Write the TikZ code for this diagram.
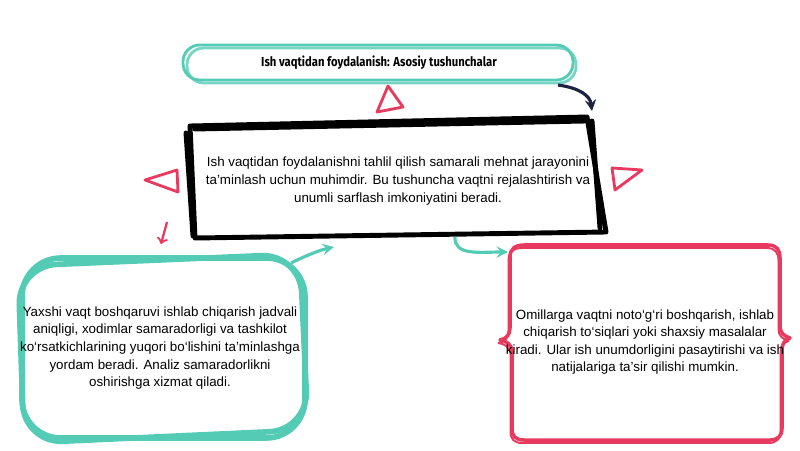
\documentclass[tikz,border=0pt]{standalone}
\usepackage{fontspec}
\setmainfont{Liberation Sans}
\newfontfamily\titlefont[FakeStretch=0.86]{Fira Sans}
\usetikzlibrary{arrows}

\definecolor{sketchteal}{RGB}{84,203,181}
\definecolor{sketchred}{RGB}{232,58,94}
\definecolor{sketchnavy}{RGB}{30,36,62}

\tikzstyle{bodytext} = [align=center,font=\fontsize{7.6pt}{10pt}\selectfont,inner sep=0pt]
\tikzstyle{titletext} = [font=\titlefont\bfseries\fontsize{7.45pt}{8pt}\selectfont,inner sep=0pt]
\tikzstyle{tealpen} = [draw=sketchteal,line width=1.6pt,line join=round]
\tikzstyle{tealthick} = [draw=sketchteal,line width=3.2pt,line join=round]
\tikzstyle{blackpen} = [draw=black,line width=2.8pt,line join=round,line cap=round]
\tikzstyle{redpen} = [draw=sketchred,line width=2pt,line join=round]
\tikzstyle{redtri} = [draw=sketchred,line width=1.6pt,line join=round]

\begin{document}
\begin{tikzpicture}
      [x=0.02cm,y=-0.02cm,
      arrowdecorate/.style={->,>=stealth,line width=1.8pt}]
      \useasboundingbox (0,0) rectangle (800,450);

      %% outlines
      \draw[tealpen,rounded corners=9.5pt] (183,45) rectangle (573,80);
      \draw[tealpen,rounded corners=9.5pt,opacity=0.8] (187,48) rectangle (576,83);

      \draw[blackpen] (190,126) -- (587,117) -- (606,232) -- (195,238) -- cycle;
      \draw[blackpen] (186,133) -- (193,236);
      \draw[blackpen] (592,121) -- (600,228);
      \draw[blackpen] (195,129) -- (585,121);

      \draw[tealthick,rounded corners=22pt] (22,258) rectangle (305,438);
      \draw[tealthick,rounded corners=22pt] (18,266) -- (300,254) -- (308,430) -- (24,443) -- cycle;

      \foreach \shift/\pen in {0/2pt, 3/1.1pt}
      {
        \draw[redpen,line width=\pen,xshift=-\shift*0.01cm,yshift=-\shift*0.02cm]
          (524,245) -- (768,245) .. controls (777,245) and (780,250) .. (780,258)
          -- (780,326) .. controls (780,333) and (784,336) .. (790,338)
          .. controls (784,340) and (782,344) .. (782,351)
          -- (782,428) .. controls (782,436) and (778,440) .. (770,440)
          -- (524,440) .. controls (515,440) and (512,436) .. (512,428)
          -- (512,352) .. controls (512,344) and (506,341) .. (500,340)
          .. controls (506,339) and (510,335) .. (510,328)
          -- (510,257) .. controls (510,249) and (515,245) .. cycle;
      }

      %% decorations
      \foreach \triname/\ax/\ay/\bx/\by/\cx/\cy in {
        tritop/388/86/377/112/403/107, trileft/145/180/177/170/178/192,
        triright/612/168/642/170/615/190}
      {
        \draw[redtri] (\ax,\ay) -- (\bx,\by) -- (\cx,\cy) -- cycle;
      }

      %% nodes
      \node[titletext] (title) at (379,63) {Ish vaqtidan foydalanish: Asosiy tushunchalar};
      \node[bodytext] (main) at (398,181) {Ish vaqtidan foydalanishni tahlil qilish samarali mehnat jarayonini\\
        ta’minlash uchun muhimdir. Bu tushuncha vaqtni rejalashtirish va\\
        unumli sarflash imkoniyatini beradi.};
      \node[bodytext] (good) at (160,348) {Yaxshi vaqt boshqaruvi ishlab chiqarish jadvali\\
        aniqligi, xodimlar samaradorligi va tashkilot\\
        ko‘rsatkichlarining yuqori bo‘lishini ta’minlashga\\
        yordam beradi. Analiz samaradorlikni\\
        oshirishga xizmat qiladi.};
      \node[bodytext] (bad) at (645,342) {Omillarga vaqtni noto‘g‘ri boshqarish, ishlab\\
        chiqarish to‘siqlari yoki shaxsiy masalalar\\
        kiradi. Ular ish unumdorligini pasaytirishi va ish\\
        natijalariga ta’sir qilishi mumkin.};

      %% arrows
      \coordinate (navyfrom) at (558,85);
      \coordinate (navyto) at (592,111);
      \coordinate (goodfrom) at (291,263);
      \coordinate (goodto) at (334,247);
      \coordinate (mainfrom) at (455,237);
      \coordinate (badto) at (508,252);
      \coordinate (redfrom) at (167,222);
      \coordinate (redto) at (161,244);

      \draw[arrowdecorate,draw=sketchnavy] (navyfrom) .. controls (580,88) and (590,96) .. (navyto);
      \draw[arrowdecorate,draw=sketchteal] (goodfrom) .. controls (305,256) and (320,250) .. (goodto);
      \draw[arrowdecorate,draw=sketchteal] (mainfrom) .. controls (454,256) and (480,252) .. (badto);
      \draw[->,>=to,draw=sketchred,line width=1.3pt] (redfrom) -- (redto);
    \end{tikzpicture}
\end{document}
